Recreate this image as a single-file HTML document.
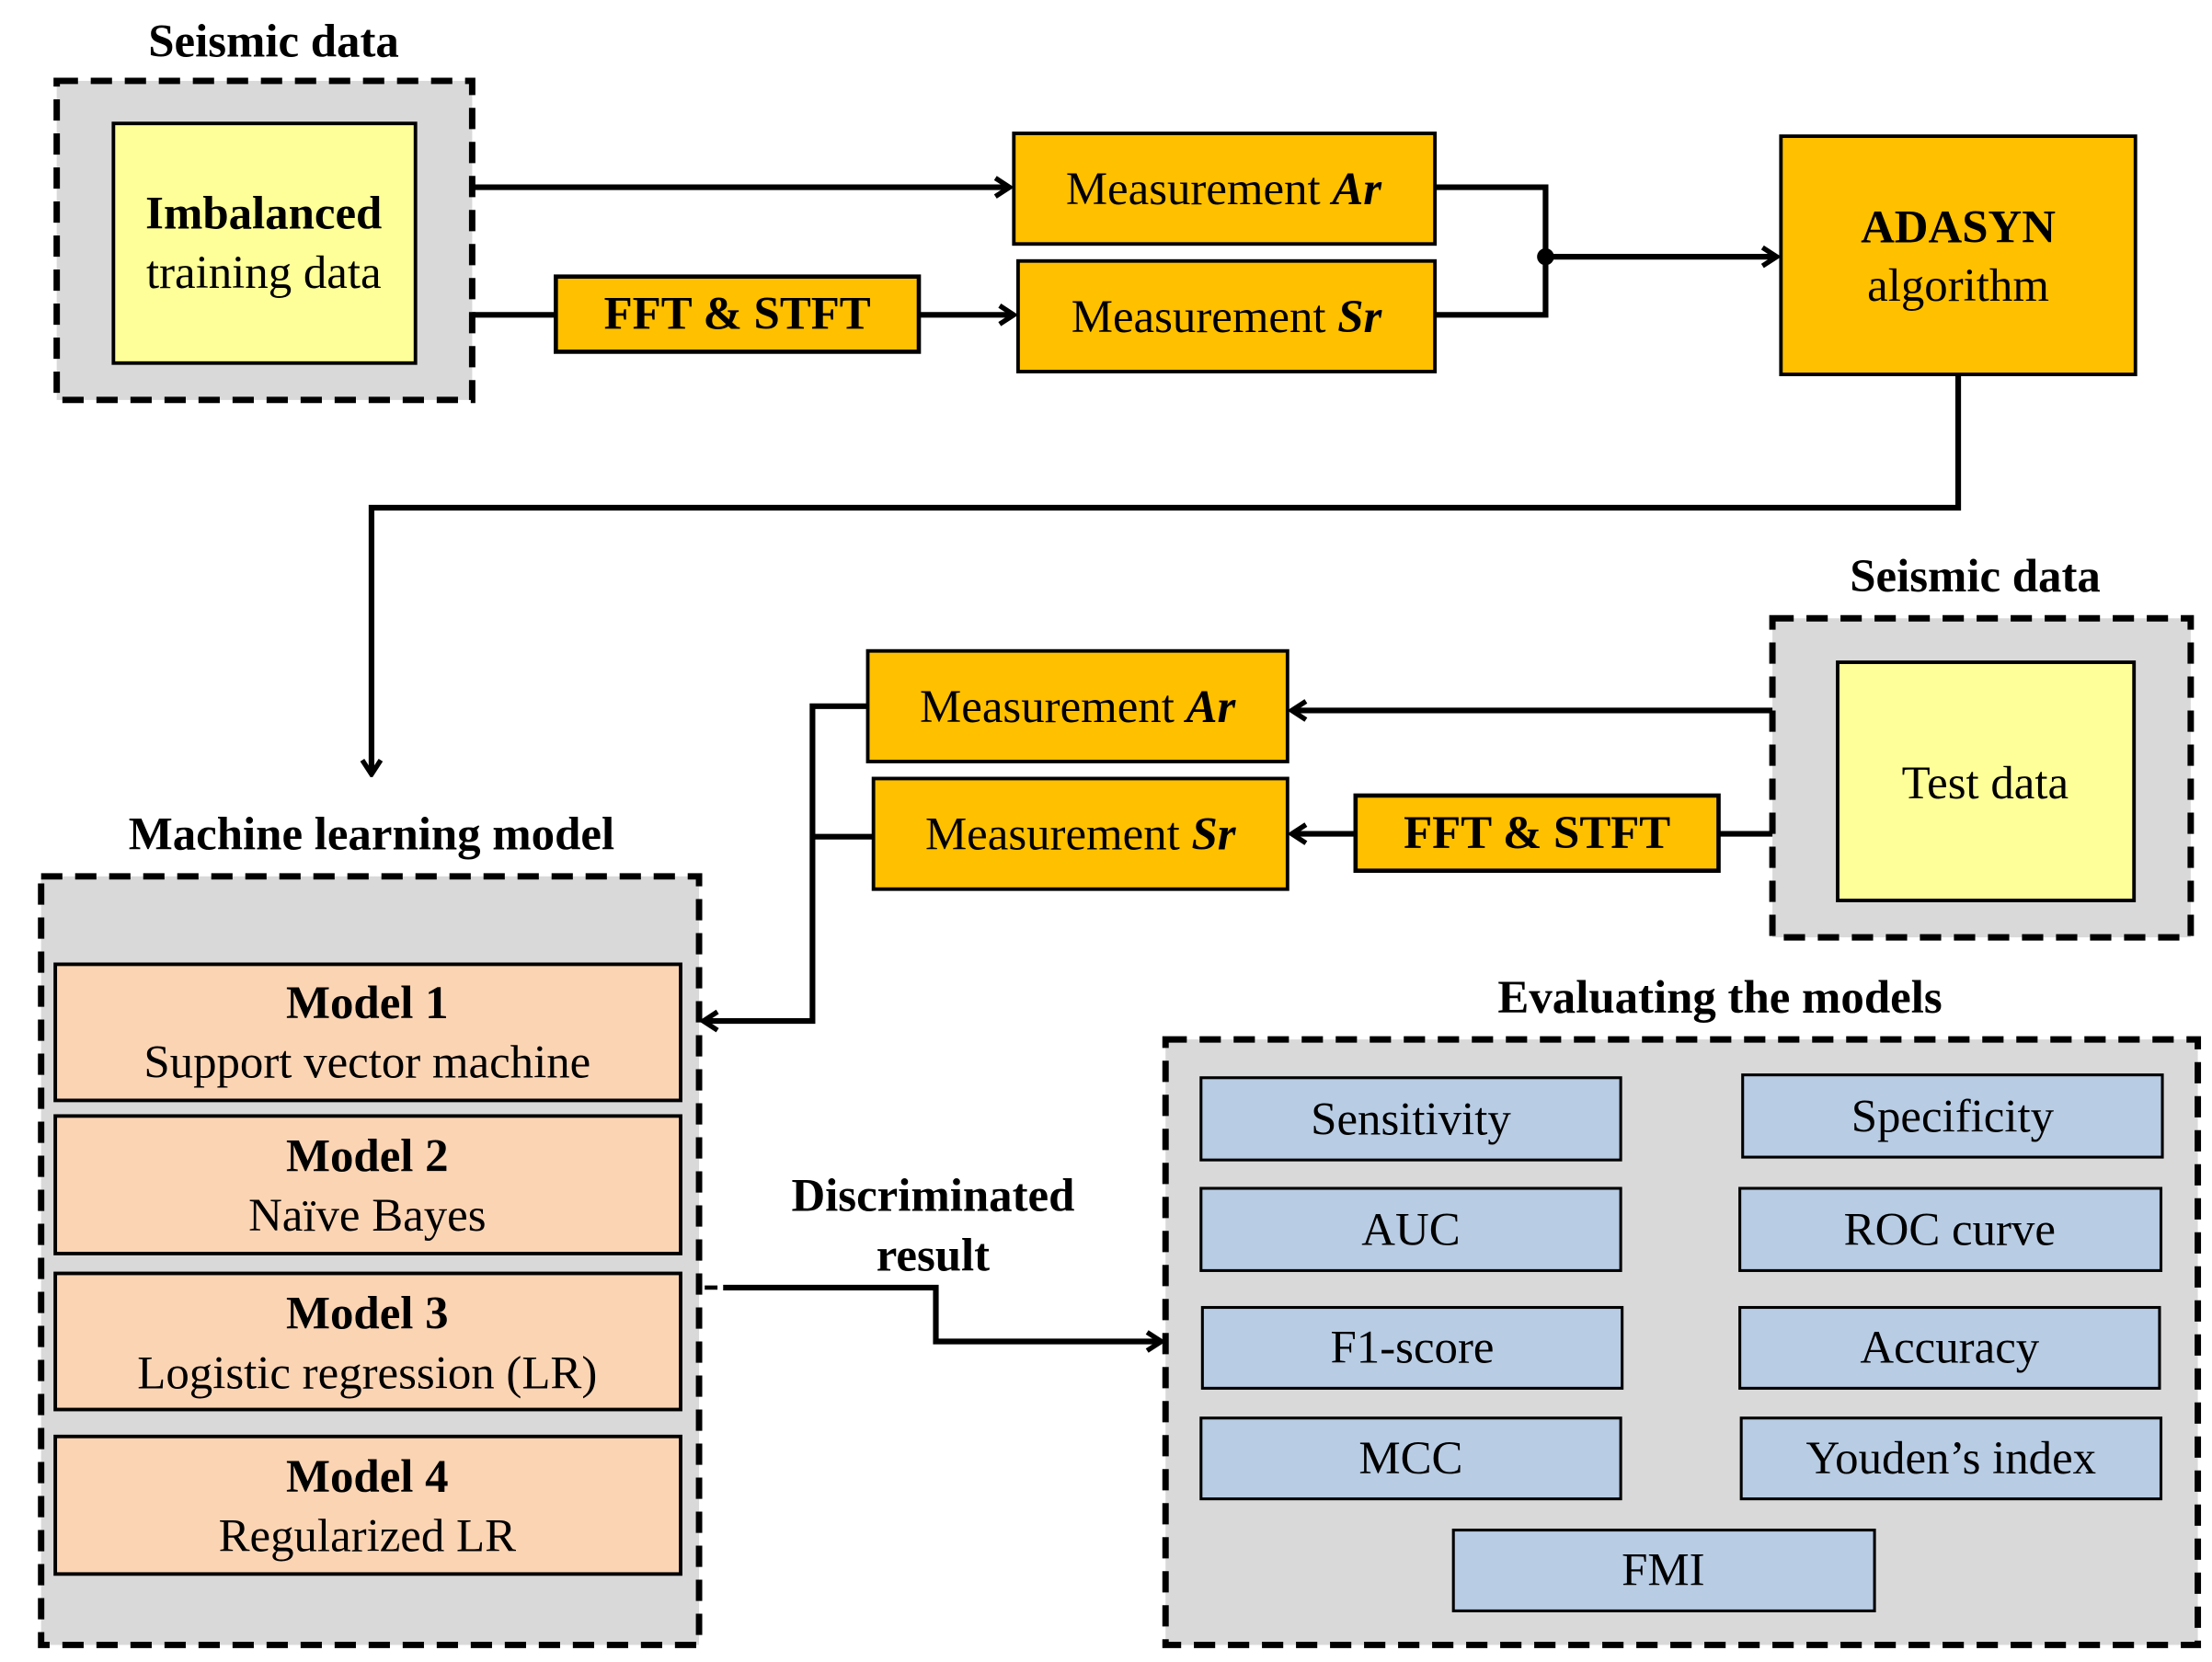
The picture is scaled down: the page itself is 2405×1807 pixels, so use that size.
<!DOCTYPE html>
<html><head><meta charset="utf-8"><style>
html,body{margin:0;padding:0;background:#fff}
svg{display:block}
text{font-family:"Liberation Serif",serif;fill:#000}
.b{font-weight:bold}
</style></head><body>
<svg width="2405" height="1807" viewBox="0 0 1560 1172" xmlns="http://www.w3.org/2000/svg">
<defs>
<marker id="ar" viewBox="0 0 14 16" refX="12" refY="8" markerWidth="14" markerHeight="16" markerUnits="userSpaceOnUse" orient="auto">
<path d="M2,1.5 L12,8 L2,14.5" fill="none" stroke="#000" stroke-width="3.5"/>
</marker>
</defs>
<g stroke="#000" stroke-width="4.5" stroke-dasharray="15,9">
<rect x="40" y="57" width="293" height="225" fill="#d9d9d9"/>
<rect x="1250" y="436" width="295" height="225" fill="#d9d9d9"/>
<rect x="29" y="618" width="464" height="542" fill="#d9d9d9"/>
<rect x="822" y="733" width="728" height="427" fill="#d9d9d9"/>
</g>
<g stroke="#000" stroke-width="2.5">
<rect x="80" y="87" width="213" height="169" fill="#ffff99"/>
<rect x="1296" y="467" width="209" height="168" fill="#ffff99"/>
<rect x="715" y="94" width="297" height="78" fill="#ffc000"/>
<rect x="718" y="184" width="294" height="78" fill="#ffc000"/>
<rect x="392" y="195" width="256" height="53" fill="#ffc000" stroke-width="3"/>
<rect x="1256" y="96" width="250" height="168" fill="#ffc000"/>
<rect x="612" y="459" width="296" height="78" fill="#ffc000"/>
<rect x="616" y="549" width="292" height="78" fill="#ffc000"/>
<rect x="956" y="561" width="256" height="53" fill="#ffc000" stroke-width="3"/>
<g fill="#fbd4b4">
<rect x="39" y="680" width="441" height="96"/>
<rect x="39" y="787" width="441" height="97"/>
<rect x="39" y="898" width="441" height="96"/>
<rect x="39" y="1013" width="441" height="97"/>
</g>
<g fill="#b8cce4" stroke-width="2">
<rect x="847" y="760" width="296" height="58"/>
<rect x="1229" y="758" width="296" height="58"/>
<rect x="847" y="838" width="296" height="58"/>
<rect x="1227" y="838" width="297" height="58"/>
<rect x="848" y="922" width="296" height="57"/>
<rect x="1227" y="922" width="296" height="57"/>
<rect x="847" y="1000" width="296" height="57"/>
<rect x="1228" y="1000" width="296" height="57"/>
<rect x="1025" y="1079" width="297" height="57"/>
</g>
</g>
<g stroke="#000" stroke-width="4" fill="none">
<path d="M333,132 H712" marker-end="url(#ar)"/>
<path d="M333,222 H392"/>
<path d="M648,222 H715" marker-end="url(#ar)"/>
<path d="M1012,132 H1090 V222 H1012"/>
<path d="M1090,181 H1253" marker-end="url(#ar)"/>
<path d="M1381,264 V358 H262 V546" marker-end="url(#ar)"/>
<path d="M1250,501 H911" marker-end="url(#ar)"/>
<path d="M1250,588 H1212"/>
<path d="M956,588 H911" marker-end="url(#ar)"/>
<path d="M612,498 H573 V720 H496" marker-end="url(#ar)"/>
<path d="M616,590 H573"/>
<path d="M510,908 H660 V946 H819" marker-end="url(#ar)"/>
<path d="M497,908 H506" stroke-width="3"/>
</g>
<circle cx="1090" cy="181" r="6" fill="#000"/>
<g font-size="33" text-anchor="middle">
<text x="193" y="40" class="b">Seismic data</text>
<text x="1393" y="417" class="b">Seismic data</text>
<text x="262" y="599" class="b">Machine learning model</text>
<text x="1213" y="714" class="b">Evaluating the models</text>
<text x="658" y="854" class="b">Discriminated</text>
<text x="658" y="896" class="b">result</text>
<text x="186" y="161" class="b">Imbalanced</text>
<text x="186" y="203">training data</text>
<text x="1400" y="563">Test data</text>
<text x="863" y="144">Measurement <tspan class="b" font-style="italic">Ar</tspan></text>
<text x="865" y="234">Measurement <tspan class="b" font-style="italic">Sr</tspan></text>
<text x="760" y="509">Measurement <tspan class="b" font-style="italic">Ar</tspan></text>
<text x="762" y="599">Measurement <tspan class="b" font-style="italic">Sr</tspan></text>
<text x="520" y="232" class="b">FFT &amp; STFT</text>
<text x="1084" y="598" class="b">FFT &amp; STFT</text>
<text x="1381" y="171" class="b">ADASYN</text>
<text x="1381" y="212">algorithm</text>
<text x="259" y="718" class="b">Model 1</text>
<text x="259" y="760">Support vector machine</text>
<text x="259" y="826" class="b">Model 2</text>
<text x="259" y="868">Naïve Bayes</text>
<text x="259" y="937" class="b">Model 3</text>
<text x="259" y="979">Logistic regression (LR)</text>
<text x="259" y="1052" class="b">Model 4</text>
<text x="259" y="1094">Regularized LR</text>
<text x="995" y="800">Sensitivity</text>
<text x="1377" y="798">Specificity</text>
<text x="995" y="878">AUC</text>
<text x="1375" y="878">ROC curve</text>
<text x="996" y="961">F1-score</text>
<text x="1375" y="961">Accuracy</text>
<text x="995" y="1039">MCC</text>
<text x="1376" y="1039">Youden’s index</text>
<text x="1173" y="1118">FMI</text>
</g>
</svg>
</body></html>
